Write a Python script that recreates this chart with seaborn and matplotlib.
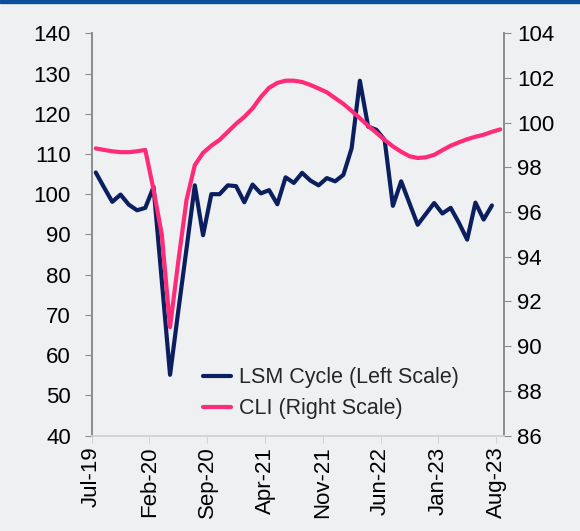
import matplotlib
matplotlib.use("Agg")
import matplotlib.pyplot as plt
from matplotlib.lines import Line2D
from matplotlib.patches import Rectangle
import seaborn as sns
import numpy as np
import pandas as pd

# monthly data, Jul-19 onwards
lsm_cycle = [105.4, 101.7, 98.1, 99.9, 97.4, 96.0, 96.6, 101.8, 78.5, 55.1,
             71.0, 86.5, 102.2, 89.8, 100.0, 100.0, 102.2, 102.0, 98.0, 102.4,
             100.2, 101.0, 97.5, 104.2, 102.8, 105.3, 103.4, 102.2, 104.0, 103.2,
             104.8, 111.4, 128.2, 116.8, 116.0, 113.5, 97.1, 103.2, 97.8, 92.4,
             95.1, 97.8, 95.2, 96.6, 92.9, 88.7, 97.9, 93.7, 97.2]

cli = [98.85, 98.78, 98.72, 98.68, 98.68, 98.72, 98.78, 97.0, 95.0, 90.85,
       93.8, 96.55, 98.1, 98.65, 98.97, 99.23, 99.59, 99.95, 100.26, 100.64,
       101.15, 101.56, 101.78, 101.88, 101.88, 101.82, 101.69, 101.53, 101.36, 101.1,
       100.84, 100.53, 100.2, 99.86, 99.55, 99.23, 98.94, 98.7, 98.5, 98.42,
       98.45, 98.56, 98.77, 98.97, 99.12, 99.26, 99.37, 99.46, 99.59, 99.7]

tick_labels = ["Jul-19", "Feb-20", "Sep-20", "Apr-21", "Nov-21", "Jun-22", "Jan-23", "Aug-23"]

NAVY = "#0b1f5e"
PINK = "#ff2a78"

sns.set_theme(style="white")
plt.rcParams["font.family"] = ["Liberation Sans", "DejaVu Sans"]

lsm_df = pd.DataFrame({"m": np.arange(len(lsm_cycle)) + 0.5, "v": lsm_cycle})
cli_df = pd.DataFrame({"m": np.arange(len(cli)) + 0.5, "v": cli})

fig = plt.figure(figsize=(5.8, 5.31), dpi=100, facecolor="#eff0f2")
fig.patches.append(Rectangle((0, 0.994), 1, 0.006, transform=fig.transFigure,
                             color="#0a4f9a", zorder=0))
ax = fig.add_axes([0.158, 0.1798, 0.7115, 0.7575])
ax.set_facecolor("none")
ax2 = ax.twinx()

sns.lineplot(data=lsm_df, x="m", y="v", ax=ax, color=NAVY, linewidth=3, legend=False)
sns.lineplot(data=cli_df, x="m", y="v", ax=ax2, color=PINK, linewidth=3, legend=False)

ax.set_xlim(0, 50)
ax.set_ylim(40, 140)
ax.set_yticks(range(40, 141, 10))
ax2.set_ylim(86, 104)
ax2.set_yticks(range(86, 105, 2))
ax.set_xticks(range(0, 50, 7))
ax.set_xticklabels(tick_labels, rotation=90)
ax.set_xlabel("")
ax.set_ylabel("")
ax2.set_ylabel("")

for a in (ax, ax2):
    a.spines["top"].set_visible(False)
    a.spines["left"].set_color("#8c8c8c")
    a.spines["right"].set_color("#8c8c8c")
    a.spines["bottom"].set_color("#d4d4d4")
    a.grid(False)

ax.tick_params(axis="y", which="major", direction="out", length=5, width=0.8,
               color="#8c8c8c", labelsize=16, labelcolor="black", left=True, pad=10)
ax2.tick_params(axis="y", which="major", direction="out", length=5, width=0.8,
                color="#8c8c8c", labelsize=16, labelcolor="black", right=True, pad=4)
ax.tick_params(axis="x", which="major", direction="out", length=5, width=0.8,
               color="#d4d4d4", labelsize=16, labelcolor="black", bottom=True, pad=3)

handles = [Line2D([], [], color=NAVY, linewidth=3),
           Line2D([], [], color=PINK, linewidth=3)]
ax2.legend(handles, ["LSM Cycle (Left Scale)", "CLI (Right Scale)"],
           loc="center left", bbox_to_anchor=(0.222, 0.105), frameon=False,
           fontsize=15.5, handlelength=1.3, handletextpad=0.4, labelspacing=0.45)

fig.savefig("out.png", dpi=100, facecolor=fig.get_facecolor())
